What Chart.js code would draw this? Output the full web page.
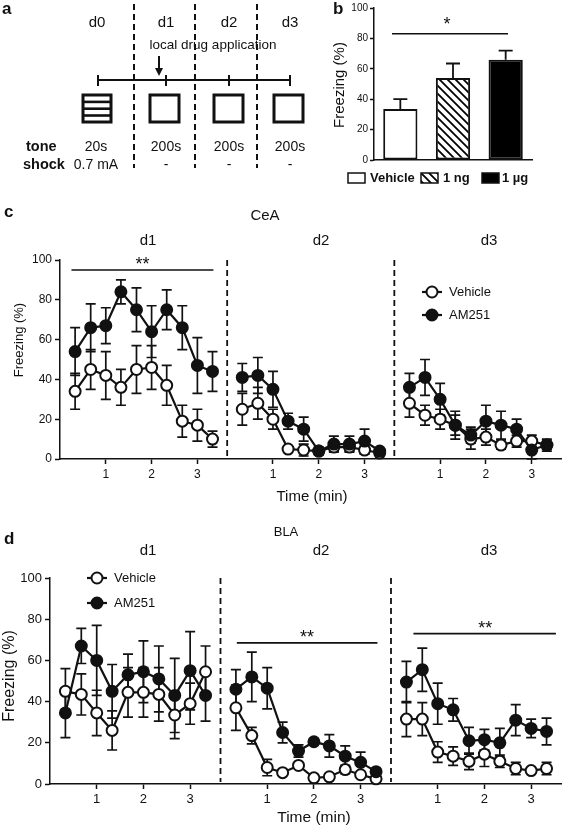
<!DOCTYPE html>
<html>
<head>
<meta charset="utf-8">
<script src="https://cdn.jsdelivr.net/npm/chart.js@4.4.1/dist/chart.umd.min.js"></script>
<style>
body { margin: 0; background: #fff; }
#wrap { position: relative; width: 569px; height: 834px; overflow: hidden; }
canvas { position: absolute; }
</style>
</head>
<body>
<div id="wrap">
  <canvas id="panelA" width="320" height="180" style="left:0;top:0"></canvas>
  <canvas id="panelB" width="249" height="195" style="left:320px;top:0"></canvas>
  <canvas id="panelC" width="569" height="310" style="left:0;top:200px"></canvas>
  <canvas id="panelD" width="569" height="329" style="left:0;top:505px"></canvas>
</div>
<script>
// ---- data ----
// panel b
const DOSE_LABELS = ['Vehicle', '1 ng', '1 µg'];
const DOSE_MEANS = [33.5, 54, 66];
const DOSE_ERR = [6.5, 9.5, 6];

// panels c, d : 20 s bins, 3 test days
const TIMES = [0.33, 0.67, 1, 1.33, 1.67, 2, 2.33, 2.67, 3, 3.33];
const DAY_OFFSET = [0, 3.65, 7.3];
const X_MAX = 10.95;
const DAY_TICKS = [1, 2, 3];
const DAY_TICK_LABELS = ['1', '2', '3'];

// CeA
const ceaVeh = [
  [34, 45, 42, 36, 45, 46, 37, 19, 17, 10],
  [25, 28, 20, 5, 4.5, 4, 6, 6, 4.5, 3],
  [28, 22, 20, 17, 10, 11, 7, 9, 9, 7]
];
const ceaVehErr = [
  [9, 10, 12, 9, 12, 11, 10, 8, 8, 4],
  [8, 8, 5, 1, 3, 1, 2, 2, 2, 1],
  [7, 5, 5, 5, 5, 4, 2, 3, 3, 2]
];
const ceaAm = [
  [54, 66, 67, 84, 75, 64, 75, 66, 47, 44],
  [41, 42, 35, 19, 15, 4, 7.5, 7.5, 9, 4],
  [36, 41, 30, 17, 12, 19, 17, 15, 4.5, 7]
];
const ceaAmErr = [
  [12, 12, 9, 6, 11, 13, 10, 11, 14, 10],
  [7, 9, 9, 4, 6, 2, 4, 4, 6, 1],
  [7, 9, 8, 7, 4, 8, 7, 5, 5, 3]
];

// BLA
const blaVeh = [
  [45, 43.5, 34.5, 26, 44.5, 44.5, 43.5, 33.5, 39, 54.5],
  [37, 23.5, 8, 5.5, 9, 3, 3.5, 7, 4.5, 2.5],
  [31.5, 31.5, 15.5, 13.5, 11, 14.5, 11, 7.5, 6.5, 7.5]
];
const blaVehErr = [
  [11, 10, 11, 9.5, 12, 12, 13, 11.5, 10, 12.5],
  [11, 4, 4, 1, 1, 1, 1, 2, 1, 1],
  [8.5, 8, 5, 4.5, 4, 6, 3, 3, 1, 3]
];
const blaAm = [
  [34.5, 67, 60, 45, 53, 54.5, 51, 43, 55, 43],
  [46, 52, 46.5, 25, 16, 20.5, 18.5, 13.5, 10.5, 6],
  [49.5, 55.5, 39, 36, 21, 21.5, 20, 31, 27, 25.5]
];
const blaAmErr = [
  [12, 8.5, 17, 13, 10, 15, 16, 18, 19, 12.5],
  [9.5, 12, 10, 5, 3, 1.5, 5.5, 5, 5, 1],
  [10, 10.5, 10, 5.5, 6.5, 5, 7, 7.5, 4.5, 6.5]
];

// significance bars (x in min from plot start, y in %)
const SIG_C = [{ from: 0.25, to: 3.35, y: 95, starX: 1.8 }];
const SIG_D = [
  { from: 4.0, to: 7.01, y: 68.5, starX: 5.5 },
  { from: 7.78, to: 10.83, y: 73, starX: 9.32 }
];

const FONT = '"Liberation Sans", Arial, sans-serif';
Chart.defaults.font.family = FONT;
Chart.defaults.color = '#111';

// ---- panel a : protocol schematic ----
(function drawSchematic() {
  const ctx = document.getElementById('panelA').getContext('2d');
  ctx.fillStyle = '#111';
  ctx.strokeStyle = '#111';
  ctx.textBaseline = 'middle';
  ctx.font = 'bold 17px ' + FONT;
  ctx.fillText('a', 2, 9);

  ctx.textAlign = 'center';
  ctx.font = '15px ' + FONT;
  [['d0', 97], ['d1', 166], ['d2', 229], ['d3', 290]].forEach(d => ctx.fillText(d[0], d[1], 23));
  ctx.font = '13.5px ' + FONT;
  ctx.fillText('local drug application', 213, 45);

  // dashed separators
  ctx.lineWidth = 2;
  ctx.setLineDash([6, 4]);
  [134, 195, 257].forEach(x => {
    ctx.beginPath(); ctx.moveTo(x, 4); ctx.lineTo(x, 168); ctx.stroke();
  });
  ctx.setLineDash([]);

  // arrow
  ctx.lineWidth = 2;
  ctx.beginPath(); ctx.moveTo(159, 56); ctx.lineTo(159, 70); ctx.stroke();
  ctx.beginPath(); ctx.moveTo(155, 68); ctx.lineTo(163, 68); ctx.lineTo(159, 76); ctx.closePath(); ctx.fill();

  // timeline
  ctx.lineWidth = 2;
  ctx.beginPath(); ctx.moveTo(98, 80); ctx.lineTo(290, 80); ctx.stroke();
  [98, 166, 229, 290].forEach(x => {
    ctx.beginPath(); ctx.moveTo(x, 75); ctx.lineTo(x, 86); ctx.stroke();
  });

  // context boxes
  ctx.lineWidth = 3;
  [150, 214, 274].forEach(x => ctx.strokeRect(x, 95, 29, 27));
  ctx.strokeRect(83, 95, 28, 27);
  for (let i = 1; i <= 3; i++) {
    ctx.fillRect(83, 95 + i * 6.8 - 1.2, 28, 2.6);
  }

  ctx.font = 'bold 14.5px ' + FONT;
  ctx.textAlign = 'left';
  ctx.fillText('tone', 26, 147);
  ctx.fillText('shock', 23, 165);
  ctx.textAlign = 'center';
  ctx.font = '14px ' + FONT;
  ctx.fillText('20s', 96, 147);
  ctx.fillText('0.7 mA', 96, 165);
  [166, 229, 290].forEach(x => {
    ctx.fillText('200s', x, 147);
    ctx.fillText('-', x, 165);
  });
})();

// ---- helpers ----
function makeHatch() {
  const c = document.createElement('canvas');
  c.width = 8; c.height = 8;
  const g = c.getContext('2d');
  g.fillStyle = '#fff'; g.fillRect(0, 0, 8, 8);
  g.strokeStyle = '#000'; g.lineWidth = 1.8;
  g.beginPath();
  g.moveTo(-1, -1); g.lineTo(9, 9);
  g.moveTo(-1, 7); g.lineTo(1, 9);
  g.moveTo(7, -1); g.lineTo(9, 1);
  g.stroke();
  return g.createPattern(c, 'repeat');
}

function drawTexts(ctx, texts) {
  ctx.save();
  ctx.fillStyle = '#111';
  ctx.textBaseline = 'middle';
  texts.forEach(t => {
    ctx.font = t.font + ' ' + FONT;
    ctx.textAlign = t.align || 'center';
    if (t.rot) {
      ctx.save();
      ctx.translate(t.x, t.y);
      ctx.rotate(-Math.PI / 2);
      ctx.fillText(t.text, 0, 0);
      ctx.restore();
    } else {
      ctx.fillText(t.text, t.x, t.y);
    }
  });
  ctx.restore();
}

function drawStars(ctx, x, cy, txt, size) {
  ctx.save();
  ctx.font = size + 'px ' + FONT;
  ctx.textAlign = 'center';
  ctx.textBaseline = 'alphabetic';
  ctx.fillStyle = '#111';
  ctx.fillText(txt, x, cy + size * 0.58);
  ctx.restore();
}

const errorBars = {
  id: 'errorBars',
  beforeDatasetsDraw(chart) {
    const ctx = chart.ctx, ys = chart.scales.y;
    ctx.save();
    ctx.strokeStyle = '#111';
    ctx.lineWidth = 1.7;
    chart.data.datasets.forEach((ds, di) => {
      if (!ds.errors) return;
      chart.getDatasetMeta(di).data.forEach((pt, i) => {
        const v = ds.data[i].y, e = ds.errors[i];
        const top = ys.getPixelForValue(v + e);
        const bot = ys.getPixelForValue(Math.max(0, v - e));
        ctx.beginPath();
        ctx.moveTo(pt.x, top); ctx.lineTo(pt.x, bot);
        ctx.moveTo(pt.x - 5, top); ctx.lineTo(pt.x + 5, top);
        ctx.moveTo(pt.x - 5, bot); ctx.lineTo(pt.x + 5, bot);
        ctx.stroke();
      });
    });
    ctx.restore();
  }
};

// ---- panel b ----
const hatch = makeHatch();
new Chart(document.getElementById('panelB'), {
  type: 'bar',
  data: {
    labels: DOSE_LABELS,
    datasets: [{
      data: DOSE_MEANS,
      errors: DOSE_ERR,
      backgroundColor: ['#fff', hatch, '#000'],
      borderColor: '#111',
      borderWidth: 2,
      borderSkipped: false,
      barPercentage: 0.65,
      categoryPercentage: 1
    }]
  },
  options: {
    responsive: false,
    animation: false,
    layout: { padding: { top: 5, right: 37, left: 0, bottom: 0 } },
    plugins: { legend: { display: false }, tooltip: { enabled: false } },
    scales: {
      x: {
        grid: { display: false },
        ticks: { display: false },
        border: { color: '#111', width: 1.5 },
        afterFit(s) { s.height = 35; }
      },
      y: {
        min: 0, max: 100,
        ticks: { stepSize: 20, font: { size: 10 }, padding: 2, color: '#111' },
        grid: { drawOnChartArea: false, tickLength: 4, tickColor: '#111', tickWidth: 1.5 },
        border: { color: '#111', width: 1.5 },
        afterFit(s) { s.width = 54; }
      }
    }
  },
  plugins: [{
    id: 'barDecor',
    afterDatasetsDraw(chart) {
      const ctx = chart.ctx, ys = chart.scales.y, xs = chart.scales.x;
      const ds = chart.data.datasets[0];
      ctx.save();
      ctx.strokeStyle = '#111';
      ctx.lineWidth = 1.8;
      chart.getDatasetMeta(0).data.forEach((bar, i) => {
        const top = ys.getPixelForValue(ds.data[i] + ds.errors[i]);
        ctx.beginPath();
        ctx.moveTo(bar.x, bar.y); ctx.lineTo(bar.x, top);
        ctx.moveTo(bar.x - 7, top); ctx.lineTo(bar.x + 7, top);
        ctx.stroke();
      });
      // significance
      const sy = ys.getPixelForValue(83);
      ctx.lineWidth = 1.5;
      ctx.beginPath(); ctx.moveTo(72, sy); ctx.lineTo(188, sy); ctx.stroke();
      drawStars(ctx, 127, 20, '*', 18);
      // legend
      const fills = ['#fff', hatch, '#000'];
      const boxes = [28, 101, 162];
      const labX = [50, 123, 182];
      ctx.font = 'bold 13px ' + FONT;
      ctx.textBaseline = 'middle';
      ctx.textAlign = 'left';
      ctx.lineWidth = 1.5;
      DOSE_LABELS.forEach((lab, i) => {
        ctx.fillStyle = fills[i];
        ctx.fillRect(boxes[i], 173, 17, 10);
        ctx.strokeRect(boxes[i], 173, 17, 10);
        ctx.fillStyle = '#111';
        ctx.fillText(lab, labX[i], 178.5);
      });
      drawTexts(ctx, [
        { text: 'b', x: 13, y: 9, font: 'bold 17px', align: 'left' },
        { text: 'Freezing (%)', x: 20, y: 85, font: '15px', rot: true }
      ]);
      ctx.restore();
    }
  }]
});

// ---- panels c, d ----
function makeDatasets(veh, vehErr, am, amErr) {
  const sets = [];
  // AM251 first so that its points are drawn on top
  DAY_OFFSET.forEach((off, d) => {
    sets.push({
      label: 'AM251',
      data: TIMES.map((t, i) => ({ x: t + off, y: am[d][i] })),
      errors: amErr[d],
      borderColor: '#111', borderWidth: 2.2,
      pointRadius: 5.5, pointBorderWidth: 2,
      pointBackgroundColor: '#111', pointBorderColor: '#111',
      clip: false
    });
  });
  DAY_OFFSET.forEach((off, d) => {
    sets.push({
      label: 'Vehicle',
      data: TIMES.map((t, i) => ({ x: t + off, y: veh[d][i] })),
      errors: vehErr[d],
      borderColor: '#111', borderWidth: 2.2,
      pointRadius: 5.5, pointBorderWidth: 2,
      pointBackgroundColor: '#fff', pointBorderColor: '#111',
      clip: false
    });
  });
  return sets;
}

const X_TICKS = DAY_OFFSET.flatMap(off => DAY_TICKS.map(t => t + off));
const X_TICK_LABELS = DAY_OFFSET.flatMap(() => DAY_TICK_LABELS);

function timeChart(id, o) {
  new Chart(document.getElementById(id), {
    type: 'line',
    data: { datasets: makeDatasets(o.veh, o.vehErr, o.am, o.amErr) },
    options: {
      responsive: false,
      animation: false,
      layout: { padding: { top: o.padTop, right: o.padRight, left: 0, bottom: 0 } },
      plugins: { legend: { display: false }, tooltip: { enabled: false } },
      scales: {
        x: {
          type: 'linear', min: 0, max: X_MAX,
          afterBuildTicks(s) { s.ticks = X_TICKS.map(v => ({ value: v })); },
          ticks: {
            autoSkip: false, maxRotation: 0, padding: 3, color: '#111',
            font: { size: o.tickSize },
            callback: (v, i) => X_TICK_LABELS[i]
          },
          grid: { drawOnChartArea: false, tickLength: 5, tickColor: '#111', tickWidth: 1.5 },
          border: { color: '#111', width: 1.5 },
          afterFit(s) { s.height = o.xHeight; }
        },
        y: {
          min: 0, max: 100,
          ticks: { stepSize: 20, padding: 3, color: '#111', font: { size: o.tickSize } },
          grid: { drawOnChartArea: false, tickLength: 5, tickColor: '#111', tickWidth: 1.5 },
          border: { color: '#111', width: 1.5 },
          afterFit(s) { s.width = o.yWidth; }
        }
      }
    },
    plugins: [errorBars, {
      id: 'decor',
      beforeDatasetsDraw(chart) {
        const ctx = chart.ctx, xs = chart.scales.x, ys = chart.scales.y;
        ctx.save();
        ctx.strokeStyle = '#111';
        ctx.lineWidth = 1.8;
        ctx.setLineDash([6, 4]);
        DAY_OFFSET.slice(1).forEach(off => {
          const x = xs.getPixelForValue(off);
          ctx.beginPath();
          ctx.moveTo(x, ys.getPixelForValue(100));
          ctx.lineTo(x, ys.getPixelForValue(0) - 2);
          ctx.stroke();
        });
        ctx.restore();
      },
      afterDraw(chart) {
        const ctx = chart.ctx, xs = chart.scales.x, ys = chart.scales.y;
        ctx.save();
        ctx.strokeStyle = '#111';
        ctx.lineWidth = 1.6;
        o.sig.forEach(s => {
          const y = ys.getPixelForValue(s.y);
          ctx.beginPath();
          ctx.moveTo(xs.getPixelForValue(s.from), y);
          ctx.lineTo(xs.getPixelForValue(s.to), y);
          ctx.stroke();
          drawStars(ctx, xs.getPixelForValue(s.starX), y - 10, '**', 18);
        });
        // legend
        const lg = o.legend;
        [['Vehicle', '#fff', 0], ['AM251', '#111', 1]].forEach(([lab, fill, k]) => {
          const cy = lg.y + k * lg.dy;
          ctx.lineWidth = 2.2;
          ctx.beginPath(); ctx.moveTo(lg.x - 10, cy); ctx.lineTo(lg.x + 10, cy); ctx.stroke();
          ctx.beginPath(); ctx.arc(lg.x, cy, 5.5, 0, Math.PI * 2);
          ctx.fillStyle = fill; ctx.fill();
          ctx.lineWidth = 2; ctx.stroke();
          ctx.fillStyle = '#111';
          ctx.font = '13px ' + FONT;
          ctx.textAlign = 'left';
          ctx.textBaseline = 'middle';
          ctx.fillText(lab, lg.x + 17, cy);
        });
        ctx.restore();
        drawTexts(ctx, o.texts);
      }
    }]
  });
}

timeChart('panelC', {
  veh: ceaVeh, vehErr: ceaVehErr, am: ceaAm, amErr: ceaAmErr,
  padTop: 60, padRight: 6, yWidth: 60, xHeight: 51, tickSize: 12,
  sig: SIG_C,
  legend: { x: 432, y: 92, dy: 23 },
  texts: [
    { text: 'c', x: 4, y: 12, font: 'bold 17px', align: 'left' },
    { text: 'CeA', x: 265, y: 16, font: '15px' },
    { text: 'd1', x: 148, y: 41, font: '15px' },
    { text: 'd2', x: 321, y: 41, font: '15px' },
    { text: 'd3', x: 489, y: 41, font: '15px' },
    { text: 'Time (min)', x: 312, y: 297, font: '15px' },
    { text: 'Freezing (%)', x: 19, y: 140, font: '13px', rot: true }
  ]
});

timeChart('panelD', {
  veh: blaVeh, vehErr: blaVehErr, am: blaAm, amErr: blaAmErr,
  padTop: 73, padRight: 2, yWidth: 50, xHeight: 50, tickSize: 13,
  sig: SIG_D,
  legend: { x: 97, y: 73, dy: 25 },
  texts: [
    { text: 'd', x: 4, y: 34, font: 'bold 17px', align: 'left' },
    { text: 'BLA', x: 286, y: 27, font: '13px' },
    { text: 'd1', x: 148, y: 46, font: '15px' },
    { text: 'd2', x: 321, y: 46, font: '15px' },
    { text: 'd3', x: 489, y: 46, font: '15px' },
    { text: 'Time (min)', x: 314, y: 313, font: '15.5px' },
    { text: 'Freezing (%)', x: 10, y: 171, font: '16px', rot: true }
  ]
});
</script>
</body>
</html>
